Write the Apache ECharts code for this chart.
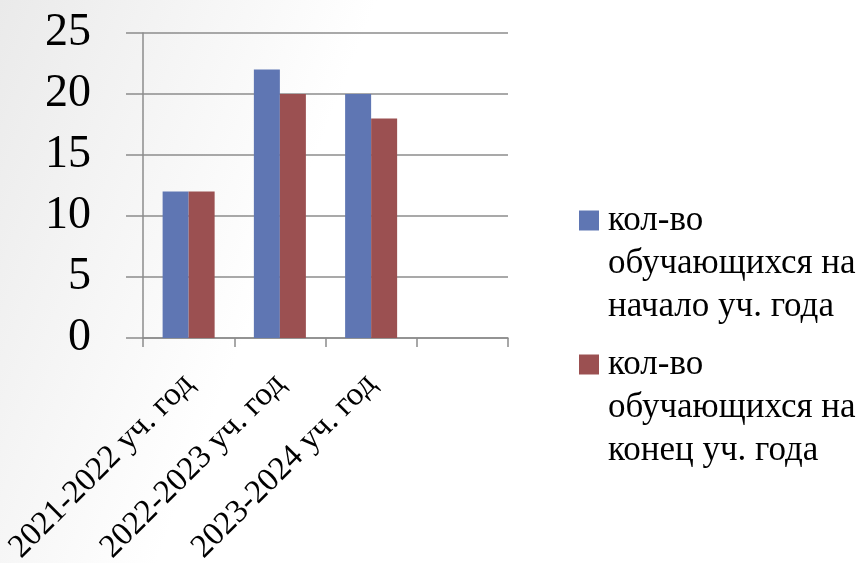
<!DOCTYPE html>
<html><head><meta charset="utf-8">
<script src="https://cdn.jsdelivr.net/npm/echarts@6/dist/echarts.min.js"></script>
<style>html,body{margin:0;padding:0;overflow:hidden;}#c{width:861px;height:563px;}</style>
</head><body><div id="c"></div>
<script>
const categories = ['2021-2022 уч. год', '2022-2023 уч. год', '2023-2024 уч. год', ''];
const seriesNames = ['кол-во\nобучающихся на\nначало уч. года', 'кол-во\nобучающихся на\nконец уч. года'];
const startValues = [12, 22, 20, null];
const endValues = [12, 20, 18, null];
const yTicks = {min: 0, max: 25, interval: 5};

const chart = echarts.init(document.getElementById('c'));
const serif = '"Liberation Serif", "DejaVu Serif", serif';
chart.setOption({
  animation: false,
  backgroundColor: {
    type: 'linear', x: 0, y: 0, x2: 1, y2: 0.6,
    colorStops: [{offset: 0, color: '#eaeaea'}, {offset: 0.38, color: '#ffffff'}, {offset: 1, color: '#ffffff'}]
  },
  grid: {left: 143, right: 353, top: 33, bottom: 225, containLabel: false, outerBoundsMode: 'none'},
  legend: {
    orient: 'vertical', left: 579, top: 113,
    padding: 0,
    itemWidth: 20, itemHeight: 20, itemGap: -71,
    icon: 'rect',
    formatter: function (name) { return '\n\n' + name; },
    textStyle: {fontFamily: serif, fontSize: 35, lineHeight: 43, color: '#000', padding: [0, 0, 0, 4]},
    data: seriesNames
  },
  xAxis: {
    type: 'category', data: categories,
    axisLine: {show: true, lineStyle: {color: '#8c8c8c', width: 1.5}},
    axisTick: {show: true, length: 9, alignWithLabel: false, lineStyle: {color: '#8c8c8c', width: 1.5}},
    axisLabel: {rotate: 45, interval: 0, margin: 41, fontFamily: serif, fontSize: 33, color: '#000'}
  },
  yAxis: {
    type: 'value', min: yTicks.min, max: yTicks.max, interval: yTicks.interval,
    axisLine: {show: true, lineStyle: {color: '#8c8c8c', width: 1.5}},
    axisTick: {show: true, length: 17, lineStyle: {color: '#8c8c8c', width: 1.5}},
    splitLine: {show: true, lineStyle: {color: '#8c8c8c', width: 1.5}},
    axisLabel: {margin: 52, fontFamily: serif, fontSize: 46, color: '#000'}
  },
  series: [
    {name: seriesNames[0], type: 'bar', data: startValues, barGap: '0%', barCategoryGap: '43%',
     itemStyle: {color: '#5f76b3'}},
    {name: seriesNames[1], type: 'bar', data: endValues, barGap: '0%', barCategoryGap: '43%',
     itemStyle: {color: '#9b5051'}}
  ]
});
</script></body></html>
